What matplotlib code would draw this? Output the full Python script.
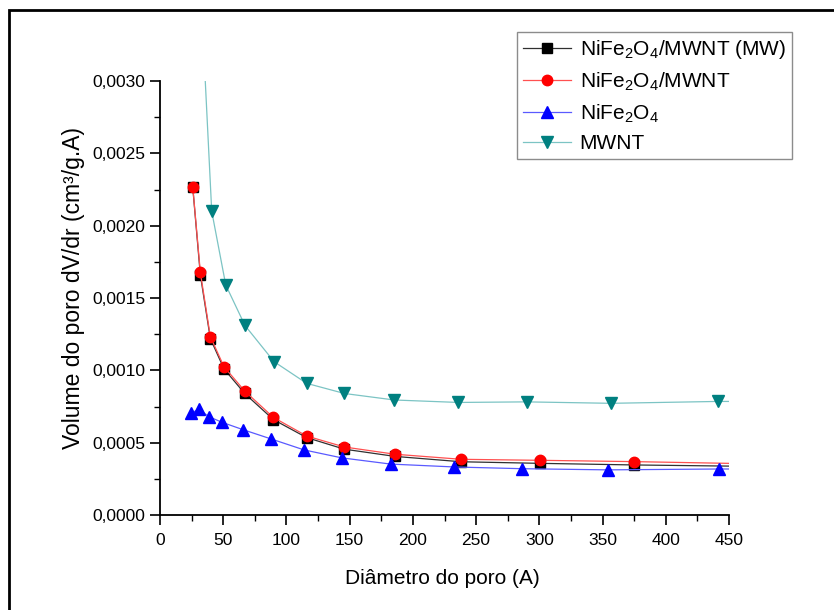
import numpy as np
import matplotlib.pyplot as plt
from matplotlib.ticker import MultipleLocator, FuncFormatter
from matplotlib.patches import Rectangle

plt.rcParams['font.family'] = ['Liberation Sans', 'DejaVu Sans']
plt.rcParams['mathtext.fontset'] = 'custom'
plt.rcParams['mathtext.rm'] = 'Liberation Sans'
plt.rcParams['mathtext.it'] = 'Liberation Sans'

# pore size distribution (BJH), last point of each curve carries the line to 450 A
d_mw = [25.9, 31.9, 39.8, 50.6, 67.0, 89.6, 116.0, 145.8, 185.9, 238.3, 300.8, 374.6, 450]
v_mw = [0.002265, 0.00166, 0.00122, 0.00101, 0.00084, 0.00066, 0.000535, 0.000455,
        0.000405, 0.000368, 0.000357, 0.000346, 0.000338]

d_comp = [25.9, 31.9, 39.8, 50.6, 67.0, 89.6, 116.0, 145.8, 185.9, 238.3, 300.8, 374.6, 450]
v_comp = [0.00227, 0.001678, 0.001233, 0.001025, 0.000857, 0.000675, 0.000546, 0.00047,
          0.00042, 0.000385, 0.000378, 0.000369, 0.000357]

d_ferr = [24.3, 31.1, 38.5, 49.3, 65.6, 88.1, 113.9, 143.7, 182.4, 232.8, 286.6, 354.3, 442.4, 450]
v_ferr = [0.000705, 0.00073, 0.00068, 0.00064, 0.00059, 0.000525, 0.00045, 0.000395,
          0.000352, 0.000332, 0.00032, 0.000312, 0.000318, 0.000318]

d_mwnt = [32.0, 40.9, 52.0, 67.2, 90.2, 116.0, 145.8, 185.3, 236.0, 290.0, 356.7, 441.0, 450]
v_mwnt = [0.00367, 0.0021, 0.00159, 0.00131, 0.00106, 0.00091, 0.00084, 0.000795,
          0.000778, 0.000782, 0.000772, 0.000785, 0.000785]

labels = [r'NiFe$_2$O$_4$/MWNT (MW)', r'NiFe$_2$O$_4$/MWNT', r'NiFe$_2$O$_4$', 'MWNT']

fig = plt.figure(figsize=(8.34, 6.10), dpi=100)
ax = fig.add_axes([160/834, 1-515/610, 569/834, 434/610])

ax.plot(d_mw, v_mw, color='#303030', lw=0.9, marker='s', ms=6.5, mfc='black', mec='black',
        markevery=list(range(len(d_mw) - 1)), label=labels[0])
ax.plot(d_comp, v_comp, color='#ff5050', lw=0.9, marker='o', ms=7.5, mfc='red', mec='red',
        markevery=list(range(len(d_comp) - 1)), label=labels[1])
ax.plot(d_ferr, v_ferr, color='#5a5aff', lw=0.9, marker='^', ms=8, mfc='blue', mec='blue',
        markevery=list(range(len(d_ferr) - 1)), label=labels[2])
ax.plot(d_mwnt, v_mwnt, color='#7cc4c4', lw=0.9, marker='v', ms=8, mfc='#008080', mec='#008080',
        markevery=list(range(len(d_mwnt) - 1)), label=labels[3])

ax.set_xlim(0, 450)
ax.set_ylim(0, 0.003)
ax.spines['top'].set_visible(False)
ax.spines['right'].set_visible(False)
ax.spines['left'].set_linewidth(1.3)
ax.spines['bottom'].set_linewidth(1.3)
ax.xaxis.set_major_locator(MultipleLocator(50))
ax.xaxis.set_minor_locator(MultipleLocator(25))
ax.yaxis.set_major_locator(MultipleLocator(0.0005))
ax.yaxis.set_minor_locator(MultipleLocator(0.00025))
ax.yaxis.set_major_formatter(FuncFormatter(lambda v, p: ('%.4f' % v).replace('.', ',')))
ax.tick_params(which='major', direction='out', length=7, width=1.2, labelsize=12.5)
ax.tick_params(axis='x', which='major', pad=6)
ax.tick_params(which='minor', direction='out', length=4, width=1.0)

ax.set_xlabel('Diâmetro do poro (A)', fontsize=15)
ax.set_ylabel('Volume do poro dV/dr (cm³/g.A)', fontsize=16.5)
ax.xaxis.set_label_coords(0.4956, -0.125)
ax.yaxis.set_label_coords(-0.131, 0.523)

leg = ax.legend(loc='upper left', bbox_to_anchor=(517/834, 1-32/610), bbox_transform=fig.transFigure,
                fontsize=15, frameon=True, fancybox=False, borderpad=0.3,
                labelspacing=0.45, handlelength=2.3, handletextpad=0.4, borderaxespad=0)
leg.get_frame().set_edgecolor('#707070')
leg.get_frame().set_linewidth(1.0)

# outer frame around the whole graph page
fig.patches.append(Rectangle((9/834, -0.1), 1.2, 1.1 - 10/610, transform=fig.transFigure,
                             fill=False, edgecolor='black', linewidth=2.0))

fig.savefig('out.png', dpi=100)
